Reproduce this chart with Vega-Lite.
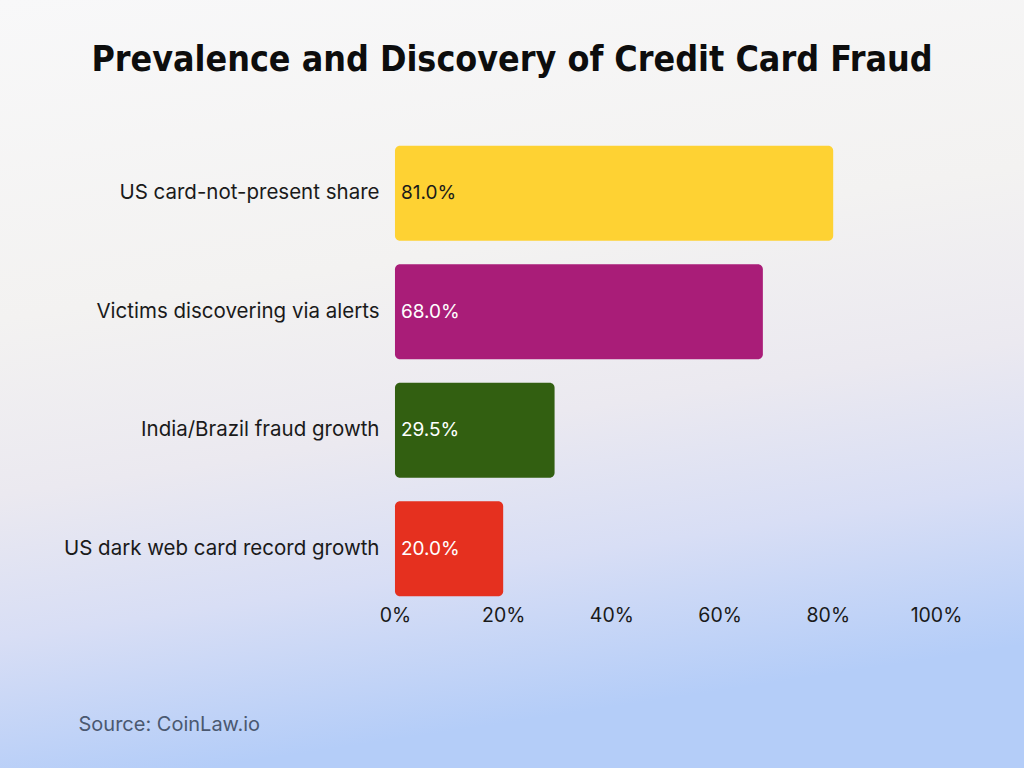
{
  "$schema": "https://vega.github.io/schema/vega-lite/v6.json",
  "width": 1024,
  "height": 768,
  "autosize": {"type": "none"},
  "padding": 0,
  "background": "#f3f4f6",
  "view": {
    "stroke": null,
    "fill": {
      "gradient": "linear",
      "x1": 0, "y1": 0, "x2": 0.2, "y2": 1,
      "stops": [
        {"offset": 0, "color": "#f8f8f9"},
        {"offset": 0.4, "color": "#f3f2f1"},
        {"offset": 0.62, "color": "#ebe9f0"},
        {"offset": 0.8, "color": "#d8def5"},
        {"offset": 1, "color": "#b4cdf8"}
      ]
    }
  },
  "title": {
    "text": "Prevalence and Discovery of Credit Card Fraud",
    "font": "DejaVu Sans Condensed, DejaVu Sans",
    "fontWeight": "bold",
    "fontSize": 35.5,
    "color": "#0d0d0d",
    "anchor": "middle",
    "frame": "group",
    "baseline": "bottom",
    "offset": -72,
    "dy": 41
  },
  "data": {
    "values": [
      {"metric": "US card-not-present share", "value": 81.0, "label": "81.0%"},
      {"metric": "Victims discovering via alerts", "value": 68.0, "label": "68.0%"},
      {"metric": "India/Brazil fraud growth", "value": 29.5, "label": "29.5%"},
      {"metric": "US dark web card record growth", "value": 20.0, "label": "20.0%"}
    ]
  },
  "encoding": {
    "y": {
      "field": "metric",
      "type": "nominal",
      "sort": null,
      "scale": {"range": [134, 608], "paddingInner": 0.2, "paddingOuter": 0.1},
      "axis": {
        "title": null,
        "offset": -395,
        "domain": false,
        "ticks": false,
        "labelPadding": 16,
        "labelFont": "Inter",
        "labelFontSize": 20.5,
        "labelColor": "#1a1a1a",
        "labelLimit": 400
      }
    }
  },
  "layer": [
    {
      "mark": {"type": "bar", "cornerRadiusEnd": 5},
      "encoding": {
        "x": {
          "field": "value",
          "type": "quantitative",
          "scale": {"domain": [-73.01, 116.27], "nice": false, "zero": false},
          "axis": {
            "offset": -170,
            "values": [0, 20, 40, 60, 80, 100],
            "labelExpr": "datum.value + '%'",
            "domain": false,
            "ticks": false,
            "grid": false,
            "labelPadding": 8,
            "labelFont": "Inter",
            "labelFontSize": 19.5,
            "labelColor": "#1a1a1a",
            "title": "Source: CoinLaw.io",
            "titleX": 78,
            "titleY": 126,
            "titleAlign": "left",
            "titleBaseline": "middle",
            "titleFont": "Inter",
            "titleFontSize": 20,
            "titleFontWeight": "normal",
            "titleColor": "#4a5870"
          }
        },
        "x2": {"datum": 0},
        "color": {
          "field": "metric",
          "type": "nominal",
          "sort": null,
          "scale": {"range": ["#fed233", "#a91d78", "#325f11", "#e5301f"]},
          "legend": null
        }
      }
    },
    {
      "mark": {"type": "text", "align": "left", "baseline": "middle", "dx": 6, "font": "Inter", "fontSize": 19},
      "encoding": {
        "x": {"datum": 0},
        "text": {"field": "label"},
        "color": {
          "condition": {"test": "datum.value > 80", "value": "#1a1a1a"},
          "value": "#ffffff"
        }
      }
    }
  ]
}
